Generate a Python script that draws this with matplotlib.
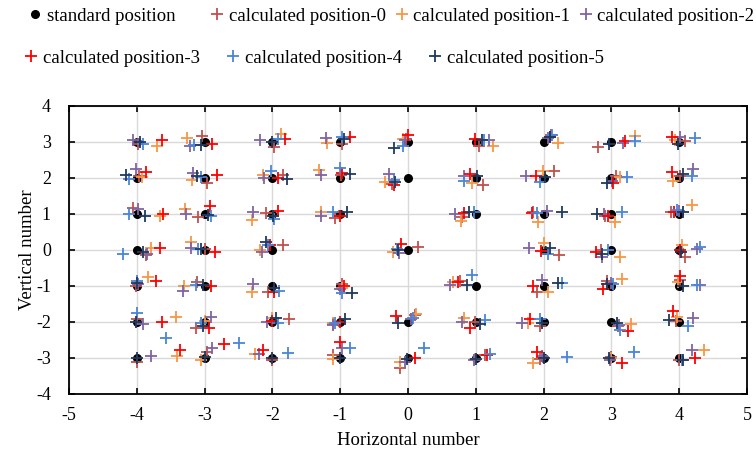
import matplotlib
matplotlib.use("Agg")
import matplotlib.pyplot as plt
from matplotlib.lines import Line2D

plt.rcParams['font.family'] = ['Liberation Serif', 'DejaVu Serif']

# Standard positions (row by row, y = 3 ... -3)
std_x = [-4, -3, -2, -1, 0, 1, 2, 3, 4,
         -4, -3, -2, -1, 0, 1, 2, 3, 4,
         -4, -3, -2, -1, 1, 2, 3, 4,
         -4, -3, -2, 0, 2, 3, 4,
         -4, -3, -2, -1, 1, 2, 3, 4,
         -4, -3, -2, -1, 0, 1, 2, 3, 4,
         -4, -3, -2, -1, 0, 1, 2, 3, 4]
std_y = [3] * 9 + [2] * 9 + [1] * 8 + [0] * 7 + [-1] * 8 + [-2] * 9 + [-3] * 9

# Deviations of each calculated position from its standard position
calc0_dx = [0.02, -0.04, 0.02, 0.03, -0.03, 0.04, 0.11, -0.20, 0.09,
            0.03, 0.03, 0.16, 0.01, -0.23, 0.10, 0.16, 0.07, 0.01,
            -0.05, -0.10, -0.09, -0.07, -0.20, -0.15, -0.09, -0.12,
            0.13, 0.00, 0.16, 0.15, 0.22, -0.16, 0.09,
            -0.01, -0.11, -0.06, 0.02, -0.24, -0.10, -0.06, 0.01,
            0.00, -0.12, 0.24, -0.10, 0.10, -0.01, -0.05, 0.09, -0.04,
            0.00, 0.03, -0.01, -0.10, -0.12, 0.14, -0.06, 0.00, -0.01]
calc0_dy = [-0.06, 0.17, -0.14, -0.05, 0.09, -0.11, 0.20, -0.14, 0.02,
            0.05, -0.14, 0.09, 0.08, -0.17, -0.19, 0.19, 0.05, 0.05,
            0.16, -0.09, 0.02, -0.12, -0.07, 0.05, -0.05, 0.06,
            -0.14, 0.03, 0.14, 0.07, -0.14, 0.00, -0.19,
            0.00, 0.12, -0.18, 0.06, 0.15, -0.16, 0.15, 0.17,
            0.08, -0.18, 0.07, -0.06, 0.19, 0.01, -0.11, -0.11, 0.04,
            -0.11, 0.17, -0.06, 0.07, -0.28, 0.07, -0.02, 0.03, -0.05]

calc1_dx = [0.30, -0.26, 0.13, -0.19, -0.07, 0.26, 0.21, 0.35, -0.06,
            0.07, -0.18, -0.14, -0.31, -0.34, -0.06, -0.01, 0.12, -0.09,
            0.34, -0.29, -0.30, -0.29, -0.22, -0.08, 0.06, 0.19,
            0.21, -0.20, -0.19, -0.22, 0.00, 0.12, 0.04,
            0.17, -0.30, -0.30, 0.03, -0.33, 0.07, 0.16, -0.02,
            0.58, 0.00, -0.01, -0.11, 0.12, -0.17, -0.23, 0.29, -0.03,
            0.60, -0.06, -0.26, -0.11, -0.12, -0.01, -0.16, -0.01, 0.37]
calc1_dy = [-0.12, 0.11, 0.23, -0.03, 0.07, -0.11, -0.03, 0.17, 0.05,
            0.02, -0.05, 0.09, 0.23, -0.11, -0.14, 0.20, 0.02, -0.07,
            -0.05, 0.13, -0.17, 0.06, -0.19, -0.21, -0.21, 0.25,
            0.06, 0.23, 0.00, -0.05, 0.19, -0.19, 0.14,
            0.26, 0.00, -0.18, -0.06, 0.12, -0.16, 0.19, 0.12,
            0.13, 0.04, 0.10, -0.02, 0.22, 0.10, -0.04, -0.06, 0.15,
            0.05, -0.06, 0.12, -0.04, -0.11, -0.04, -0.13, 0.01, 0.21]

calc2_dx = [-0.06, -0.21, -0.19, -0.21, -0.05, 0.19, 0.07, 0.17, 0.01,
            -0.01, -0.17, -0.13, -0.29, -0.28, -0.18, -0.26, 0.01, 0.20,
            0.02, -0.28, -0.29, -0.29, -0.30, 0.05, -0.11, -0.01,
            0.15, -0.20, -0.15, -0.13, -0.21, -0.14, 0.26,
            0.02, -0.32, -0.29, 0.00, -0.38, -0.02, -0.01, 0.31,
            0.09, 0.10, -0.08, -0.10, 0.05, -0.20, -0.32, 0.11, 0.20,
            0.21, 0.11, -0.20, 0.02, -0.05, -0.02, -0.03, -0.02, 0.19]
calc2_dy = [0.06, -0.11, 0.06, 0.12, 0.05, 0.05, 0.11, -0.03, 0.14,
            0.24, 0.14, 0.00, 0.09, 0.12, 0.06, 0.05, -0.07, 0.26,
            0.13, 0.00, 0.06, -0.05, 0.00, 0.09, 0.00, 0.08,
            -0.12, 0.06, -0.05, -0.09, 0.05, -0.19, 0.03,
            0.05, -0.13, 0.06, -0.09, 0.03, 0.17, 0.09, 0.03,
            -0.06, 0.13, 0.00, -0.08, 0.07, 0.01, -0.04, -0.08, 0.12,
            0.05, 0.29, 0.12, 0.29, -0.11, -0.06, 0.05, -0.05, 0.23]

calc3_dx = [0.37, 0.11, 0.18, 0.14, 0.00, -0.01, 0.10, 0.20, -0.11,
            0.14, 0.19, 0.08, 0.02, -0.21, -0.08, -0.11, 0.03, -0.11,
            0.39, 0.08, 0.08, -0.01, -0.18, -0.17, -0.05, -0.08,
            0.34, 0.16, -0.04, -0.11, -0.04, -0.22, 0.01,
            0.29, 0.10, 0.03, 0.05, -0.26, -0.15, -0.13, 0.01,
            0.37, 0.07, 0.00, 0.00, -0.17, -0.08, -0.20, 0.25, -0.09,
            0.63, 0.28, -0.14, 0.00, 0.10, 0.16, -0.09, 0.16, 0.24]
calc3_dy = [0.06, -0.05, 0.09, 0.14, 0.20, 0.07, 0.14, 0.02, 0.14,
            0.16, 0.09, 0.00, 0.14, -0.19, 0.11, 0.05, -0.14, 0.16,
            0.00, 0.22, 0.08, -0.05, 0.02, 0.02, -0.06, 0.06,
            0.06, -0.05, 0.15, 0.16, -0.02, -0.05, 0.00,
            0.15, 0.00, -0.16, 0.00, 0.12, 0.00, -0.09, 0.28,
            0.00, -0.16, 0.04, 0.00, 0.17, -0.18, 0.07, -0.24, 0.31,
            0.21, 0.40, 0.23, 0.44, 0.01, 0.09, 0.17, -0.13, 0.01]

calc4_dx = [0.09, -0.15, 0.08, 0.02, -0.08, 0.12, 0.12, 0.35, 0.24,
            -0.12, -0.06, -0.02, 0.00, -0.21, -0.18, -0.05, 0.23, 0.19,
            -0.12, 0.10, 0.03, -0.10, -0.03, -0.10, 0.16, -0.03,
            -0.20, -0.10, -0.06, -0.16, 0.06, -0.05, 0.30,
            0.00, -0.13, 0.10, 0.02, -0.06, 0.27, 0.02, 0.26,
            0.01, -0.06, 0.08, -0.08, 0.07, 0.13, -0.06, 0.13, 0.13,
            0.43, 0.51, 0.23, 0.15, 0.23, 0.21, 0.34, 0.34, 0.04]
calc4_dy = [-0.06, -0.09, 0.09, 0.14, -0.11, 0.05, 0.19, 0.02, 0.12,
            -0.02, 0.02, 0.19, 0.28, -0.05, -0.09, -0.11, 0.02, 0.05,
            0.00, -0.05, -0.14, 0.06, 0.06, 0.02, 0.05, 0.11,
            -0.12, 0.03, 0.14, 0.03, -0.12, 0.00, 0.09,
            0.14, 0.03, -0.13, -0.19, 0.31, 0.07, 0.06, 0.03,
            0.24, -0.02, -0.04, -0.04, 0.10, 0.06, 0.07, -0.22, -0.10,
            0.56, 0.43, 0.14, 0.29, 0.29, 0.12, 0.03, 0.17, -0.06]

calc5_dx = [0.05, -0.05, -0.01, 0.05, -0.21, 0.09, 0.09, -0.04, -0.02,
            -0.16, -0.11, 0.21, 0.15, -0.19, 0.02, 0.02, -0.07, 0.05,
            0.12, 0.05, 0.01, 0.10, -0.10, 0.27, -0.21, 0.05,
            0.09, -0.05, -0.09, -0.15, 0.09, -0.14, 0.03,
            0.01, -0.02, 0.03, 0.17, -0.13, 0.21, -0.06, 0.06,
            -0.01, -0.02, 0.06, 0.07, -0.15, 0.06, -0.02, 0.08, -0.15,
            0.01, 0.00, 0.00, 0.00, -0.01, 0.00, 0.01, -0.04, 0.06]
calc5_dy = [0.00, -0.07, 0.00, 0.09, -0.16, 0.05, 0.14, -0.05, -0.05,
            0.07, 0.06, -0.03, 0.11, -0.11, 0.05, 0.02, -0.14, 0.12,
            -0.05, -0.03, -0.05, 0.06, 0.05, 0.06, 0.00, 0.05,
            -0.06, 0.02, 0.23, 0.00, 0.05, -0.12, -0.05,
            0.09, 0.03, -0.06, -0.19, 0.03, 0.07, 0.06, 0.00,
            0.00, -0.10, 0.10, 0.07, -0.02, -0.06, -0.04, -0.02, 0.06,
            0.01, 0.02, 0.00, 0.01, -0.02, -0.02, 0.00, 0.00, -0.05]

series_labels = ['calculated position-0', 'calculated position-1', 'calculated position-2',
                 'calculated position-3', 'calculated position-4', 'calculated position-5']
series_colors = ['#C0504D', '#F79646', '#8064A2', '#FF0000', '#4A86D8', '#1F3A5F']
series_dx = [calc0_dx, calc1_dx, calc2_dx, calc3_dx, calc4_dx, calc5_dx]
series_dy = [calc0_dy, calc1_dy, calc2_dy, calc3_dy, calc4_dy, calc5_dy]

x_ticks = [-5, -4, -3, -2, -1, 0, 1, 2, 3, 4, 5]
y_ticks = [-4, -3, -2, -1, 0, 1, 2, 3, 4]

fig = plt.figure(figsize=(7.56, 4.53), dpi=100)
ax = fig.add_axes([69 / 756, 1 - 394 / 453, (747 - 69) / 756, (394 - 106) / 453])

ax.scatter(std_x, std_y, s=30, color='black', zorder=3, label='standard position')
handles = [Line2D([], [], marker='o', color='black', ls='none', ms=5.5)]
for lab, col, dxs, dys in zip(series_labels, series_colors, series_dx, series_dy):
    xs = [sx + d for sx, d in zip(std_x, dxs)]
    ys = [sy + d for sy, d in zip(std_y, dys)]
    ax.plot(xs, ys, ls='none', marker='+', ms=9, mew=1.3, color=col, zorder=4)
    handles.append(Line2D([], [], marker='+', color=col, ls='none', ms=9, mew=1.3))

ax.set_xlim(-5, 5)
ax.set_ylim(-4, 4)
ax.set_xticks(x_ticks)
ax.set_yticks(y_ticks)
ax.set_xticklabels([str(t) for t in x_ticks])
ax.set_yticklabels([str(t) for t in y_ticks])
ax.grid(True, color='#D9D9D9', linewidth=1.0, zorder=0)
ax.set_axisbelow(True)
for sp in ax.spines.values():
    sp.set_color('black')
    sp.set_linewidth(1.3)
ax.tick_params(axis='both', direction='in', length=4, width=1.2, labelsize=13,
               top=True, right=True)
ax.tick_params(axis='x', pad=9)
ax.tick_params(axis='y', pad=13)
ax.set_xlabel('Horizontal number', fontsize=13.5, labelpad=6)
ax.set_ylabel('Vertical number', fontsize=13.5, labelpad=0)

lk = dict(frameon=False, fontsize=13.5, handletextpad=0.1, handlelength=1.0,
          borderpad=0, borderaxespad=0)
fig.legend([handles[0]], ['standard position'], loc='center left',
           bbox_to_anchor=(26 / 756, 1 - 16 / 453), **lk)
fig.legend(handles[1:4], series_labels[0:3], loc='center left', ncol=3,
           bbox_to_anchor=(208 / 756, 1 - 16 / 453), columnspacing=0.35, **lk)
fig.legend(handles[4:7], series_labels[3:6], loc='center left', ncol=3,
           bbox_to_anchor=(22 / 756, 1 - 58 / 453), columnspacing=1.3, **lk)

fig.savefig('out.png', dpi=100)
